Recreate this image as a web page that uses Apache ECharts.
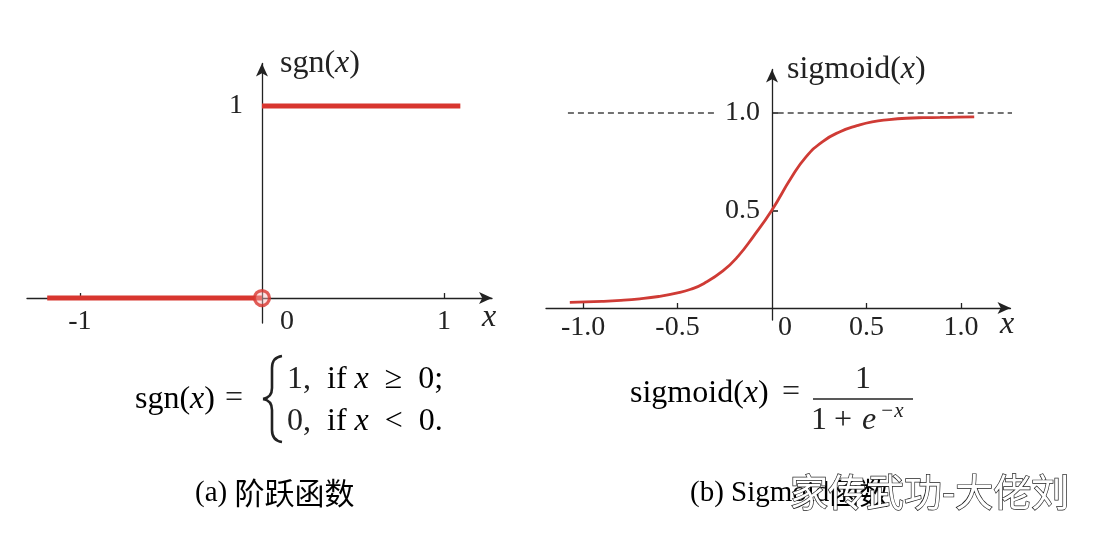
<!DOCTYPE html>
<html><head><meta charset="utf-8">
<script src="https://cdn.jsdelivr.net/npm/echarts@6/dist/echarts.min.js"></script>
<style>html,body{margin:0;padding:0;background:#fff}#c{width:1100px;height:534px}</style>
</head><body><div id="c"></div>
<script>
// ---- data: (a) step function ----
const stepLowX = [-1.18, 0];
const stepLowY = [0, 0];
const stepHighX = [0, 1.09];
const stepHighY = [1, 1];
const stepOpenPoint = [0, 0];
const stepXTicks = [-1, 1];
const stepXLabels = [-1, 0, 1];
const stepYLabels = [1];

// ---- data: (b) sigmoid ----
const sigX = [-1.07, -0.9, -0.8, -0.7, -0.6, -0.5, -0.43, -0.36, -0.26, -0.18, -0.1, 0, 0.1, 0.18, 0.27, 0.36, 0.45, 0.53, 0.62, 0.71, 0.8, 0.89, 0.98, 1.07];
const sigY = [0.029, 0.034, 0.039, 0.047, 0.059, 0.077, 0.096, 0.126, 0.19, 0.265, 0.365, 0.503, 0.665, 0.775, 0.855, 0.904, 0.935, 0.955, 0.966, 0.973, 0.976, 0.977, 0.979, 0.98];
const sigAsymY = 1.0;
const sigAsymLeftX = [-1.08, -0.3];
const sigAsymRightX = [0.03, 1.27];
const sigXTicks = [-1, -0.5, 0.5, 1];
const sigXLabels = [-1, -0.5, 0, 0.5, 1];
const sigYTicks = [0.5, 1];

const SERIF = 'Liberation Serif';
const INK = '#222';
const RED = '#d8362f';
const TICK_FS = 28;
const pairs = (xs, ys) => xs.map((x, i) => [x, ys[i]]);

const lineAxis = { show: true, symbol: ['none', 'arrow'], symbolSize: [9, 13], lineStyle: { color: INK, width: 1.3 } };
const rIt = { fontFamily: SERIF, fontStyle: 'italic', fontSize: 32, color: INK };
const rRm = { fontFamily: SERIF, fontSize: 32, color: INK };
const braceStyle = { fill: 'none', stroke: INK, lineWidth: 2.6 };
const capR = { fontFamily: SERIF, fontSize: 29, color: '#333' };
const capC = { fontFamily: 'Noto Sans CJK SC', fontSize: 30, color: '#333' };

const chart = echarts.init(document.getElementById('c'));
chart.setOption({
  animation: false,
  backgroundColor: '#fff',
  grid: [
    { left: 27, top: 63.5, width: 465, height: 259.5, outerBoundsMode: 'none', containLabel: false },
    { left: 546, top: 69.5, width: 464.5, height: 250.5, outerBoundsMode: 'none', containLabel: false }
  ],
  xAxis: [
    {
      type: 'value', gridIndex: 0, min: -1.291, max: 1.264,
      axisLine: Object.assign({ onZero: true }, lineAxis),
      splitLine: { show: false },
      axisTick: { show: true, inside: true, length: 5, customValues: stepXTicks, lineStyle: { color: INK, width: 1.3 } },
      axisLabel: {
        customValues: stepXLabels, margin: -15, fontFamily: SERIF, fontSize: TICK_FS, color: INK,
        formatter: v => v === 0 ? '{z|0}' : String(v),
        rich: { z: { padding: [0, 0, 0, 50], fontFamily: SERIF, fontSize: TICK_FS, color: INK } }
      },
      name: '{i|x}', nameLocation: 'end', nameGap: -10,
      nameTextStyle: { align: 'left', verticalAlign: 'middle', padding: [40, 0, 0, 0], rich: { i: rIt } }
    },
    {
      type: 'value', gridIndex: 1, min: -1.196, max: 1.262,
      axisLine: Object.assign({ onZero: true }, lineAxis),
      splitLine: { show: false },
      axisTick: { show: true, inside: true, length: 5, customValues: sigXTicks, lineStyle: { color: INK, width: 1.3 } },
      axisLabel: {
        customValues: sigXLabels, margin: -6, fontFamily: SERIF, fontSize: TICK_FS, color: INK,
        formatter: v => v === 0 ? '{z|0}' : v.toFixed(1),
        rich: { z: { padding: [0, 0, 0, 26], fontFamily: SERIF, fontSize: TICK_FS, color: INK } }
      },
      name: '{i|x}', nameLocation: 'end', nameGap: -10.5,
      nameTextStyle: { align: 'left', verticalAlign: 'middle', padding: [34, 0, 0, 0], rich: { i: rIt } }
    }
  ],
  yAxis: [
    {
      type: 'value', gridIndex: 0, min: -0.130, max: 1.221,
      axisLine: Object.assign({ onZero: true }, lineAxis),
      splitLine: { show: false },
      axisTick: { show: false },
      axisLabel: { customValues: stepYLabels, margin: -216, fontFamily: SERIF, fontSize: TICK_FS, color: INK, padding: [8, 0, 0, 0], formatter: v => String(v) },
      name: '{r|sgn(}{i|x}{r|)}', nameLocation: 'end', nameGap: 0,
      nameTextStyle: { align: 'left', verticalAlign: 'middle', padding: [0, 0, 0, 18], rich: { r: rRm, i: rIt } }
    },
    {
      type: 'value', gridIndex: 1, min: -0.0615, max: 1.223,
      axisLine: Object.assign({ onZero: true }, lineAxis),
      splitLine: { show: false },
      axisTick: { show: true, inside: true, length: 6, customValues: sigYTicks, lineStyle: { color: INK, width: 1.6 } },
      axisLabel: { customValues: sigYTicks, margin: -214, fontFamily: SERIF, fontSize: TICK_FS, color: INK, padding: [4, 0, 0, 0], formatter: v => v.toFixed(1) },
      name: '{r|sigmoid(}{i|x}{r|)}', nameLocation: 'end', nameGap: 0,
      nameTextStyle: { align: 'left', verticalAlign: 'middle', padding: [0, 0, 0, 15], rich: { r: rRm, i: rIt } }
    }
  ],
  series: [
    { type: 'line', xAxisIndex: 0, yAxisIndex: 0, data: pairs(stepLowX, stepLowY), symbol: 'none', lineStyle: { color: RED, width: 5 }, z: 3 },
    { type: 'line', xAxisIndex: 0, yAxisIndex: 0, data: pairs(stepHighX, stepHighY), symbol: 'none', lineStyle: { color: RED, width: 5 }, z: 3 },
    { type: 'scatter', xAxisIndex: 0, yAxisIndex: 0, data: [stepOpenPoint], symbol: 'circle', symbolSize: 15,
      itemStyle: { color: 'rgba(250,190,190,0.55)', borderColor: RED, borderWidth: 3.2 }, z: 4 },
    { type: 'line', xAxisIndex: 1, yAxisIndex: 1, data: sigAsymLeftX.map(x => [x, sigAsymY]), symbol: 'none',
      lineStyle: { color: '#444', width: 1.3, type: [6, 4] }, z: 2 },
    { type: 'line', xAxisIndex: 1, yAxisIndex: 1, data: sigAsymRightX.map(x => [x, sigAsymY]), symbol: 'none',
      lineStyle: { color: '#444', width: 1.3, type: [6, 4] }, z: 2 },
    { type: 'line', xAxisIndex: 1, yAxisIndex: 1, data: pairs(sigX, sigY), symbol: 'none', smooth: true,
      lineStyle: { color: '#cf3b35', width: 2.8 }, z: 3 }
  ],
  graphic: [
    // left formula
    { type: 'text', x: 135, y: 400, style: { text: '{r|sgn(}{i|x}{r|)}', rich: { r: rRm, i: rIt }, align: 'left', verticalAlign: 'middle' } },
    { type: 'text', x: 225, y: 399, style: { text: '=', font: '32px ' + SERIF, fill: INK, align: 'left', verticalAlign: 'middle' } },
    { type: 'bezierCurve', shape: { x1: 282, y1: 356, cpx1: 275, cpy1: 357, cpx2: 272, cpy2: 361, x2: 272, y2: 368 }, style: braceStyle },
    { type: 'line', shape: { x1: 272, y1: 368, x2: 272, y2: 388 }, style: braceStyle },
    { type: 'bezierCurve', shape: { x1: 272, y1: 388, cpx1: 272, cpy1: 394, cpx2: 269, cpy2: 398, x2: 263, y2: 399 }, style: braceStyle },
    { type: 'bezierCurve', shape: { x1: 263, y1: 399, cpx1: 269, cpy1: 400, cpx2: 272, cpy2: 404, x2: 272, y2: 410 }, style: braceStyle },
    { type: 'line', shape: { x1: 272, y1: 410, x2: 272, y2: 430 }, style: braceStyle },
    { type: 'bezierCurve', shape: { x1: 272, y1: 430, cpx1: 272, cpy1: 437, cpx2: 275, cpy2: 441, x2: 282, y2: 442 }, style: braceStyle },
    { type: 'text', x: 287, y: 380, style: { text: '1,', font: '32px ' + SERIF, fill: INK, align: 'left', verticalAlign: 'middle' } },
    { type: 'text', x: 287, y: 422, style: { text: '0,', font: '32px ' + SERIF, fill: INK, align: 'left', verticalAlign: 'middle' } },
    { type: 'text', x: 327, y: 380, style: { text: '{r|if }{i|x}{r|  ≥  0;}', rich: { r: rRm, i: rIt }, align: 'left', verticalAlign: 'middle' } },
    { type: 'text', x: 327, y: 422, style: { text: '{r|if }{i|x}{r|  <  0.}', rich: { r: rRm, i: rIt }, align: 'left', verticalAlign: 'middle' } },
    // right formula
    { type: 'text', x: 630, y: 394, style: { text: '{r|sigmoid(}{i|x}{r|)}', rich: { r: rRm, i: rIt }, align: 'left', verticalAlign: 'middle' } },
    { type: 'text', x: 782, y: 393, style: { text: '=', font: '32px ' + SERIF, fill: INK, align: 'left', verticalAlign: 'middle' } },
    { type: 'line', shape: { x1: 813, y1: 399, x2: 913, y2: 399 }, style: { stroke: INK, lineWidth: 1.6 } },
    { type: 'text', x: 863, y: 380, style: { text: '1', font: '32px ' + SERIF, fill: INK, align: 'center', verticalAlign: 'middle' } },
    { type: 'text', x: 819, y: 421, style: { text: '1', font: '32px ' + SERIF, fill: INK, align: 'center', verticalAlign: 'middle' } },
    { type: 'text', x: 843, y: 421, style: { text: '+', font: '32px ' + SERIF, fill: INK, align: 'center', verticalAlign: 'middle' } },
    { type: 'text', x: 869, y: 421, style: { text: 'e', font: 'italic 32px ' + SERIF, fill: INK, align: 'center', verticalAlign: 'middle' } },
    { type: 'text', x: 880, y: 411, style: { text: '−x', font: 'italic 21px ' + SERIF, fill: INK, align: 'left', verticalAlign: 'middle' } },
    // captions
    { type: 'text', x: 195, y: 493, style: { text: '{r|(a) }{c|阶跃函数}', rich: { r: capR, c: capC }, align: 'left', verticalAlign: 'middle' } },
    { type: 'text', x: 690, y: 493, style: { text: '{r|(b) Sigmoid}{c|函数}', rich: { r: capR, c: capC }, align: 'left', verticalAlign: 'middle' } },
    // watermark
    { type: 'text', x: 790, y: 492, z: 100, style: { text: '家传武功-大佬刘', font: '38px "Noto Sans CJK SC"', fill: '#fff', stroke: '#222', lineWidth: 1.4, align: 'left', verticalAlign: 'middle' } }
  ]
});
</script>
</body></html>
